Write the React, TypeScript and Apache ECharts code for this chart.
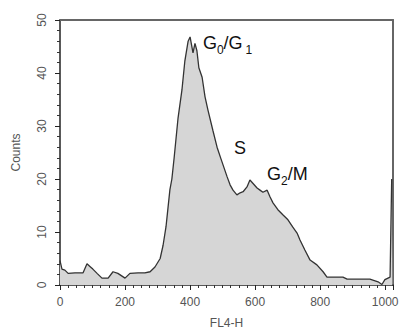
import React, { useEffect, useRef } from "react";
import * as echarts from "echarts";

// FL4-H channel positions and the cell counts
const channels = [
  0, 6, 15, 25, 46, 71, 83, 92, 101, 114, 129, 148, 163, 178, 200, 215, 240, 261, 277, 292,
  308, 317, 326, 332, 338, 344, 351, 363, 375, 384, 394, 400, 409, 415, 421, 427, 437, 446,
  455, 470, 483, 495, 514, 523, 532, 544, 554, 563, 575, 584, 593, 606, 615, 624, 637, 646,
  655, 670, 686, 701, 716, 729, 738, 753, 769, 790, 809, 821, 870, 883, 953, 978, 990, 999,
  1015, 1020, 1022,
];
const counts = [
  4.6, 3.0, 2.8, 2.2, 2.3, 2.3, 4.0, 3.5, 3.0, 2.2, 1.3, 1.3, 2.5, 2.2, 1.3, 2.2, 2.3, 2.3, 2.5, 3.4,
  5.0, 7.5, 11.0, 14.5, 18.0, 20.0, 24.0, 31.5, 36.8, 42.3, 46.0, 46.8, 43.8, 45.6, 44.2, 41.0, 39.2, 35.5,
  33.0, 29.2, 26.0, 23.8, 20.4, 18.9, 17.9, 17.0, 17.4, 17.6, 18.5, 19.8, 19.2, 18.3, 17.9, 17.5, 17.9, 16.6,
  15.5, 14.2, 13.2, 12.3, 10.9, 9.8, 8.5, 6.6, 4.7, 3.8, 2.5, 1.5, 1.5, 1.1, 1.1, 0.6, 0.1, 1.0,
  1.5, 20.0, 20.0,
];
const xTicks = [0, 200, 400, 600, 800, 1000];
const yTicks = [0, 10, 20, 30, 40, 50];

const FONT = "'Liberation Sans', Arial, sans-serif";
const W = 406;
const H = 335;
const GRID = { left: 60, right: 13, top: 20, bottom: 50 };

export default function App() {
  const ref = useRef<HTMLDivElement>(null);
  useEffect(() => {
    if (!ref.current) return;
    const chart = echarts.init(ref.current, null, { renderer: "svg" });
    const data = channels.map((c, i) => [c, counts[i]]);
    const frameAxis = {
      type: "value",
      min: 0,
      axisLine: { show: true, onZero: false, lineStyle: { color: "#666", width: 2 } },
      axisTick: { show: false },
      axisLabel: { show: false },
      splitLine: { show: false },
    };
    const txt = (text: string, x: number, y: number, size: number) => ({
      type: "text",
      x,
      y,
      style: { text, fontFamily: FONT, fontSize: size, fill: "#111", align: "left", verticalAlign: "bottom" },
      z: 10,
    });
    chart.setOption({
      animation: false,
      grid: GRID,
      xAxis: [
        {
          type: "value",
          min: 0,
          max: 1024,
          interval: 200,
          name: "FL4-H",
          nameLocation: "middle",
          nameGap: 32,
          nameTextStyle: { fontFamily: FONT, fontSize: 12, color: "#555" },
          axisLine: { show: true, onZero: false, lineStyle: { color: "#222", width: 1.5 } },
          axisTick: { show: true, inside: false, length: 5, lineStyle: { color: "#222" } },
          minorTick: { show: true, splitNumber: 8, length: 3, lineStyle: { color: "#333" } },
          splitLine: { show: false },
          axisLabel: {
            fontFamily: FONT,
            fontSize: 12,
            color: "#555",
            margin: 11,
            formatter: (v: number) => (xTicks.includes(v) ? String(v) : ""),
          },
        },
        { ...frameAxis, position: "top", max: 1024 },
      ],
      yAxis: [
        {
          type: "value",
          min: 0,
          max: 50,
          interval: 10,
          name: "Counts",
          nameLocation: "middle",
          nameGap: 38,
          nameTextStyle: { fontFamily: FONT, fontSize: 12, color: "#555" },
          axisLine: { show: true, onZero: false, lineStyle: { color: "#222", width: 1.5 } },
          axisTick: { show: true, inside: false, length: 5, lineStyle: { color: "#222" } },
          minorTick: { show: true, splitNumber: 5, length: 3, lineStyle: { color: "#333" } },
          splitLine: { show: false },
          axisLabel: {
            fontFamily: FONT,
            fontSize: 12,
            color: "#555",
            rotate: 90,
            margin: 12,
            formatter: (v: number) => (yTicks.includes(v) ? String(v) : ""),
          },
        },
        { ...frameAxis, position: "right", max: 50 },
      ],
      series: [
        {
          type: "line",
          xAxisIndex: 0,
          yAxisIndex: 0,
          data,
          showSymbol: false,
          symbol: "none",
          lineStyle: { color: "#333", width: 1.3 },
          areaStyle: { color: "#d6d6d6", opacity: 1 },
        },
      ],
      graphic: [
        txt("G", 203, 52, 18),
        txt("0", 217, 56, 12),
        txt("/G", 223.5, 52, 18),
        txt("1", 245.5, 56, 12),
        txt("S", 234, 157, 18),
        txt("G", 267, 183, 18),
        txt("2", 281, 187, 12),
        txt("/M", 287.7, 183, 18),
      ],
    });
    return () => chart.dispose();
  }, []);
  return <div ref={ref} style={{ position: "absolute", left: 0, top: 0, width: W, height: H }} />;
}
